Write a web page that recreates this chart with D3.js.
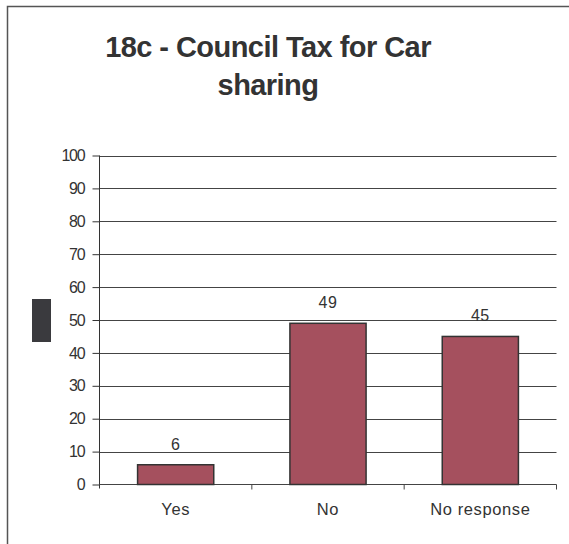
<!DOCTYPE html>
<html><head><meta charset="utf-8">
<script src="https://cdn.jsdelivr.net/npm/d3@7"></script>
<style>html,body{margin:0;padding:0;background:#fff;}svg{display:block;}</style>
</head><body>
<svg id="c" width="569" height="544"></svg>
<script>
const categories = ["Yes", "No", "No response"];
const values = [6, 49, 45];
const yTicks = [0, 10, 20, 30, 40, 50, 60, 70, 80, 90, 100];
const titleLines = ["18c - Council Tax for Car", "sharing"];

const svg = d3.select("#c");
const font = "Liberation Sans, Arial, sans-serif";
const txt = "#333";

// outer frame
svg.append("rect").attr("x", 7.5).attr("y", 6.5).attr("width", 600).attr("height", 600)
  .attr("fill", "none").attr("stroke", "#555").attr("stroke-width", 1.5);

// title
svg.append("text").attr("x", 268).attr("y", 56.5).attr("text-anchor", "middle")
  .attr("font-family", font).attr("font-weight", "bold").attr("font-size", 29).attr("fill", txt)
  .attr("letter-spacing", -0.55)
  .selectAll("tspan").data(titleLines).join("tspan")
  .attr("x", 268).attr("dy", (d, i) => i ? 38.5 : 0).text(d => d);

const x0 = 99.5, x1 = 556.5;
const x = d3.scaleBand().domain(categories).range([x0, x1]).paddingInner(0.5).paddingOuter(0.25);
const y = d3.scaleLinear().domain([0, 100]).range([484.5, 155.5]);

// gridlines
svg.append("g").selectAll("line").data(yTicks.filter(d => d > 0)).join("line")
  .attr("x1", x0).attr("x2", x1).attr("y1", d => Math.round(y(d)) + 0.5).attr("y2", d => Math.round(y(d)) + 0.5)
  .attr("stroke", "#444").attr("stroke-width", 1);

// y axis
const yAxis = d3.axisLeft(y).tickValues(yTicks).tickSize(7).tickPadding(8);
const gy = svg.append("g").attr("transform", `translate(${x0},0)`).call(yAxis);
gy.select(".domain").attr("stroke", "#333").attr("d", `M0,${y(100)}V${y(0)+4}`);
gy.selectAll(".tick line").attr("stroke", "#333");
gy.selectAll("text").attr("font-family", font).attr("font-size", 16).attr("fill", txt).attr("letter-spacing", -1.2);

// x axis
const band = d3.scaleBand().domain(categories).range([x0, x1]);
const gx = svg.append("g").attr("transform", `translate(0,${y(0)})`);
gx.append("line").attr("x1", x0).attr("x2", x1).attr("y1", 0).attr("y2", 0).attr("stroke", "#444");
gx.selectAll(".tk").data(categories).join("line").attr("class", "tk")
  .attr("x1", d => band(d) + band.bandwidth()).attr("x2", d => band(d) + band.bandwidth())
  .attr("y1", 0).attr("y2", 5).attr("stroke", "#444");
gx.selectAll("text").data(categories).join("text")
  .attr("x", d => band(d) + band.bandwidth() / 2).attr("y", 30.5).attr("text-anchor", "middle")
  .attr("font-family", font).attr("font-size", 16.5).attr("letter-spacing", 0.6).attr("fill", txt).text(d => d);

// bars
svg.append("g").selectAll("rect").data(categories).join("rect")
  .attr("x", d => x(d)).attr("width", x.bandwidth())
  .attr("y", (d, i) => y(values[i])).attr("height", (d, i) => y(0) - y(values[i]))
  .attr("fill", "#A5505E").attr("stroke", "#333").attr("stroke-width", 1.5);

// value labels
svg.append("g").selectAll("text").data(categories).join("text")
  .attr("x", d => x(d) + x.bandwidth() / 2).attr("y", (d, i) => y(values[i]) - 15)
  .attr("text-anchor", "middle").attr("font-family", font).attr("font-size", 16).attr("fill", txt)
  .attr("letter-spacing", 0.5)
  .text((d, i) => values[i]);

// dark block on left
svg.append("rect").attr("x", 32).attr("y", 299).attr("width", 19).attr("height", 43).attr("fill", "#3a3a3e");
</script>
</body></html>
